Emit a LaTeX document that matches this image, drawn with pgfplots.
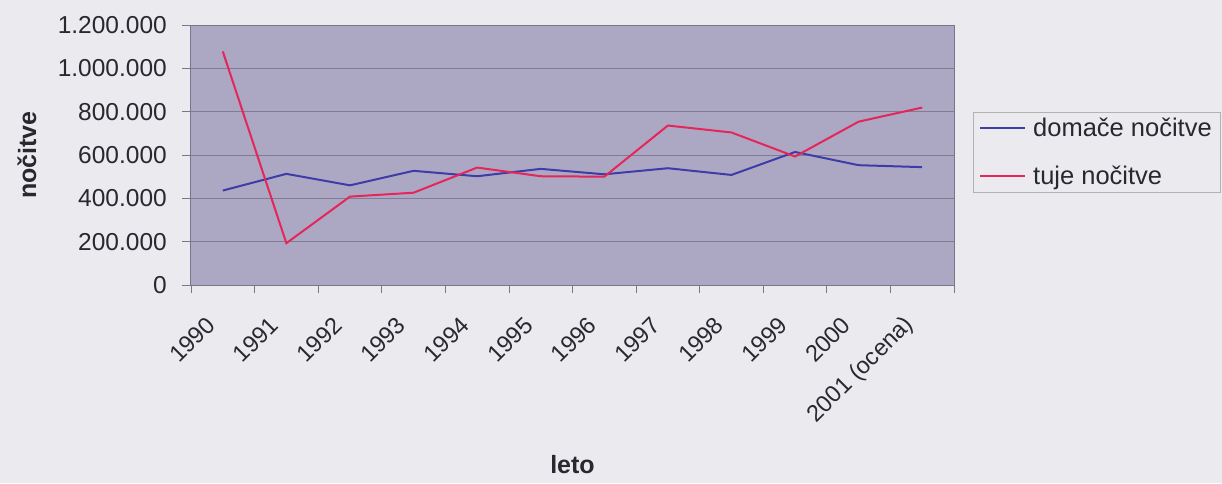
\documentclass[border=0pt]{standalone}
\usepackage{fontspec}
\setmainfont{Liberation Sans}
\usepackage{pgfplots}
\pgfplotsset{compat=1.18}
\definecolor{pagebg}{RGB}{234,234,239}
\definecolor{plotbg}{RGB}{172,168,196}
\definecolor{gridc}{RGB}{128,124,148}
\definecolor{framec}{RGB}{120,118,135}
\definecolor{bluel}{RGB}{62,60,168}
\definecolor{redl}{RGB}{228,38,88}
\definecolor{txt}{RGB}{40,40,46}
\begin{document}
\begin{tikzpicture}
\fill[pagebg] (-191pt,-198pt) rectangle (1031pt,285pt);
\useasboundingbox (-191pt,-198pt) rectangle (1031pt,285pt);
\begin{axis}[
  at={(0pt,0pt)}, anchor=south west,
  scale only axis, width=763pt, height=260pt,
  xmin=-0.5, xmax=11.5, ymin=0, ymax=1200000,
  axis background/.style={fill=plotbg},
  axis line style={draw=framec, line width=1pt},
  ymajorgrids, grid style={draw=gridc, line width=0.8pt},
  xtick={0,1,2,3,4,5,6,7,8,9,10,11},
  xticklabels={1990,1991,1992,1993,1994,1995,1996,1997,1998,1999,2000,2001 (ocena)},
  minor xtick={-0.5,0.5,1.5,2.5,3.5,4.5,5.5,6.5,7.5,8.5,9.5,10.5,11.5},
  major x tick style={draw=none},
  minor x tick style={draw=framec, line width=0.8pt},
  minor tick length=8pt,
  ytick={0,200000,400000,600000,800000,1000000,1200000},
  yticklabels={0,200.000,400.000,600.000,800.000,1.000.000,1.200.000},
  major y tick style={draw=framec, line width=0.8pt},
  major tick length=9pt,
  tick align=outside,
  xtick pos=bottom, ytick pos=left,
  scaled y ticks=false,
  x tick label style={font=\fontsize{23.5}{28}\selectfont, text=txt, inner sep=0pt, xshift=-12pt, yshift=-27pt, rotate=45, anchor=east},
  y tick label style={font=\fontsize{24.5}{28}\selectfont, text=txt, inner sep=0pt, xshift=-15pt, anchor=east},
  xlabel={\textbf{leto}},
  xlabel style={font=\fontsize{25}{28}\selectfont, text=txt, at={(axis description cs:0.5,-0.69)}, anchor=center},
  ylabel={\textbf{nočitve}},
  ylabel style={font=\fontsize{25}{28}\selectfont, text=txt, at={(axis description cs:-0.215,0.5)}, anchor=center},
  legend style={at={(rel axis cs:1.0249,0.665)}, anchor=north west, draw=gray!60, fill=pagebg,
    font=\fontsize{25.5}{28}\selectfont, text=txt, inner xsep=6pt, inner ysep=4pt, row sep=24pt},
  legend cell align=left,
  legend image code/.code={\draw[#1] (2pt,0pt) -- (47pt,0pt); \path (52pt,0pt);},
]
\addplot[bluel, line width=2pt] coordinates {
 (0,436000) (1,513000) (2,460000) (3,527000) (4,502000) (5,536000)
 (6,511000) (7,539000) (8,508000) (9,614000) (10,553000) (11,544000)};
\addlegendentry{domače nočitve}
\addplot[redl, line width=2pt] coordinates {
 (0,1078000) (1,193000) (2,408000) (3,426000) (4,542000) (5,502000)
 (6,500000) (7,736000) (8,704000) (9,593000) (10,754000) (11,819000)};
\addlegendentry{tuje nočitve}
\end{axis}
\end{tikzpicture}
\end{document}
